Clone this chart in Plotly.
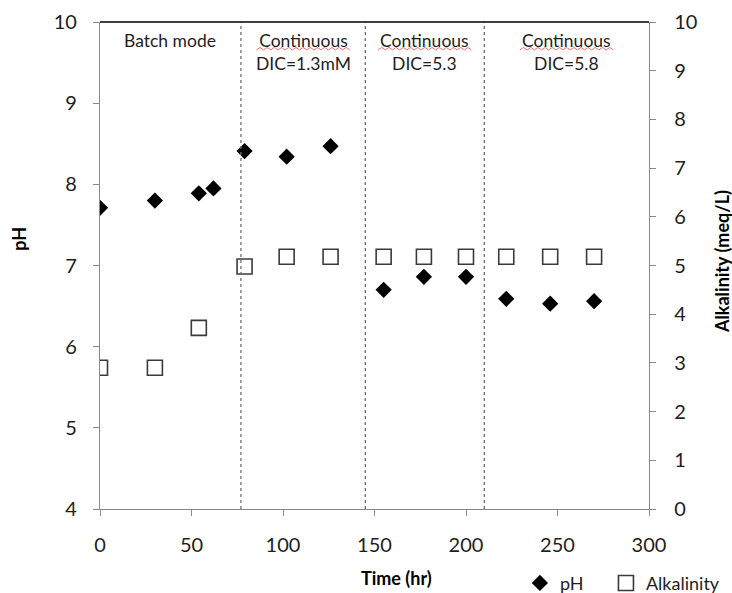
import plotly.graph_objects as go

# pH readings (left axis) and alkalinity readings (right axis) over run time
time_ph = [0, 30, 54, 62, 79, 102, 126, 155, 177, 200, 222, 246, 270]
ph_values = [7.71, 7.80, 7.89, 7.95, 8.41, 8.34, 8.47, 6.70, 6.86, 6.86, 6.59, 6.53, 6.56]

time_alk = [0, 30, 54, 79, 102, 126, 155, 177, 200, 222, 246, 270]
alk_values = [2.90, 2.90, 3.72, 4.98, 5.18, 5.18, 5.18, 5.18, 5.18, 5.18, 5.18, 5.18]

# Operating phases: boundaries (hr) and their labels
phase_edges = [0, 77, 145, 210, 300]
phase_labels = [
    ["Batch mode"],
    ["Continuous", "DIC=1.3mM"],
    ["Continuous", "DIC=5.3"],
    ["Continuous", "DIC=5.8"],
]

x_ticks = [0, 50, 100, 150, 200, 250, 300]
ph_ticks = [4, 5, 6, 7, 8, 9, 10]
alk_ticks = list(range(0, 11))

FONT = "Lato"
AXIS_GRAY = "#898989"
TEXT = "#1e1e1e"
TICK_SIZE = 20

fig = go.Figure()

fig.add_trace(go.Scatter(
    x=time_ph, y=ph_values, mode="markers", name="pH",
    marker=dict(symbol="diamond", size=12.5, color="black",
                line=dict(width=0)),
    yaxis="y", legend="legend",
))
fig.add_trace(go.Scatter(
    x=time_alk, y=alk_values, mode="markers", name="Alkalinity",
    marker=dict(symbol="square-open", size=15, color="#3a3a3a",
                line=dict(width=1.6, color="#3a3a3a")),
    yaxis="y2", legend="legend2",
))

shapes = []
# dotted separators between phases
for edge in phase_edges[1:-1]:
    shapes.append(dict(type="line", xref="x", yref="paper",
                       x0=edge, x1=edge, y0=0, y1=1,
                       line=dict(color="#6e6e6e", width=1.3, dash="dot")))
# top frame line
shapes.append(dict(type="line", xref="paper", yref="paper",
                   x0=0, x1=1, y0=1, y1=1,
                   line=dict(color="black", width=1.5)))

annotations = []
for i, lines in enumerate(phase_labels):
    mid = (phase_edges[i] + phase_edges[i + 1]) / 2
    annotations.append(dict(
        x=mid, y=1, xref="x", yref="paper",
        xanchor="center", yanchor="top", yshift=-6,
        text="<br>".join(lines), showarrow=False, align="center",
        font=dict(family=FONT, size=17.5, color=TEXT),
    ))
    # red wavy spell-check underline beneath "Continuous"
    if lines[0] == "Continuous":
        half = 25.5  # hr, half width of the word
        n = 26
        pts = []
        for k in range(n + 1):
            xx = mid - half + 2 * half * k / n
            yy = 0.9452 + (0.0025 if k % 2 else -0.0025)
            pts.append(f"{xx},{yy}")
        path = "M " + " L ".join(pts)
        shapes.append(dict(type="path", xref="x", yref="paper", path=path,
                           line=dict(color="#e05050", width=0.8)))

# axis titles
annotations.append(dict(text="<b>pH</b>", x=-0.1468, y=0.556, xref="paper", yref="paper",
                        xanchor="center", yanchor="middle",
                        showarrow=False, textangle=-90,
                        font=dict(family=FONT, size=18, color="black")))
annotations.append(dict(text="<b>Alkalinity (meq/L)</b>", x=1.133, y=0.507, xref="paper",
                        yref="paper", xanchor="center", yanchor="middle",
                        showarrow=False, textangle=-90,
                        font=dict(family=FONT, size=18, color="black")))
annotations.append(dict(text="<b>Time (hr)</b>", x=0.5406, y=-0.1417, xref="paper",
                        yref="paper", xanchor="center", yanchor="middle",
                        showarrow=False,
                        font=dict(family=FONT, size=18, color="black")))

legend_style = dict(orientation="h", y=-0.1525, xanchor="left", yanchor="middle",
                    font=dict(family=FONT, size=18, color=TEXT),
                    bgcolor="rgba(0,0,0,0)")

fig.update_layout(
    width=732, height=593,
    margin=dict(l=100, r=83, t=22, b=84, autoexpand=False),
    paper_bgcolor="white", plot_bgcolor="white",
    font=dict(family=FONT, size=TICK_SIZE, color=TEXT),
    showlegend=True,
    legend=dict(x=0.7648, **legend_style),
    legend2=dict(x=0.9216, **legend_style),
    xaxis=dict(range=[0, 300], tickvals=x_ticks, ticks="outside", ticklen=6,
               tickcolor=AXIS_GRAY, showline=True, linecolor=AXIS_GRAY, linewidth=1.3,
               showgrid=False, zeroline=False, ticklabelstandoff=12,
               tickfont=dict(family=FONT, size=TICK_SIZE, color=TEXT)),
    yaxis=dict(range=[4, 10], tickvals=ph_ticks, ticks="outside", ticklen=6,
               tickcolor=AXIS_GRAY, showline=True, linecolor=AXIS_GRAY, linewidth=1.3,
               showgrid=False, zeroline=False, ticklabelstandoff=12,
               tickfont=dict(family=FONT, size=TICK_SIZE, color=TEXT)),
    yaxis2=dict(range=[0, 10], tickvals=alk_ticks, overlaying="y", side="right",
                ticks="outside", ticklen=6, tickcolor=AXIS_GRAY, showline=True,
                linecolor=AXIS_GRAY, linewidth=1.3, showgrid=False, zeroline=False,
                ticklabelstandoff=14,
                tickfont=dict(family=FONT, size=TICK_SIZE, color=TEXT)),
    shapes=shapes,
    annotations=annotations,
)

fig.write_html("out.html")
